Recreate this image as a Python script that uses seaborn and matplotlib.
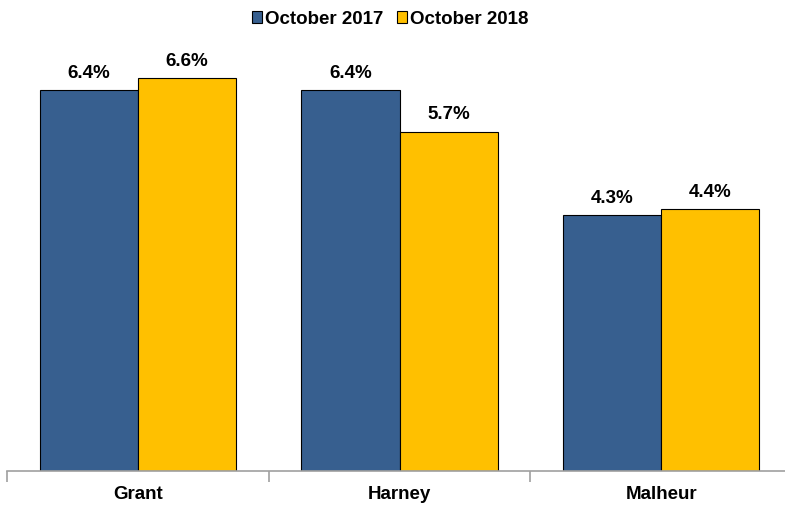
import pandas as pd
import matplotlib
matplotlib.use("Agg")
from matplotlib import pyplot as plt
from matplotlib.patches import Patch
import seaborn as sns

counties = ["Grant", "Harney", "Malheur"]
rate_2017 = [6.4, 6.4, 4.3]
rate_2018 = [6.6, 5.7, 4.4]
series_names = ["October 2017", "October 2018"]
colors = ["#375F8F", "#FFC000"]

df = pd.DataFrame({
    "County": counties * 2,
    "Rate": rate_2017 + rate_2018,
    "Series": [series_names[0]] * 3 + [series_names[1]] * 3,
})

sns.set_style("white")
plt.rcParams["font.family"] = ["Liberation Sans", "DejaVu Sans"]
plt.rcParams["text.color"] = "black"
plt.rcParams["xtick.color"] = "black"

fig = plt.figure(figsize=(7.85, 5.08), dpi=100)
ax = fig.add_axes([0.009, 0.0728, 1.0, 0.82])

sns.barplot(data=df, x="County", y="Rate", hue="Series", palette=colors,
            width=0.75, gap=0, edgecolor="black", linewidth=0.8,
            saturation=1, legend=False, ax=ax)

for cont in ax.containers:
    ax.bar_label(cont, labels=[f"{v:.1f}%" for v in cont.datavalues],
                 padding=6, fontsize=13.5, fontweight="bold", color="black")

ax.set_xlim(-0.5, 2.5)
ax.set_ylim(0, 7)
ax.set_xlabel("")
ax.set_ylabel("")
ax.set_yticks([])
for s in ["top", "right", "left"]:
    ax.spines[s].set_visible(False)
ax.spines["bottom"].set_color("#A0A0A0")
ax.spines["bottom"].set_linewidth(1.2)
ax.set_xticks([-0.5, 0.5, 1.5, 2.5], minor=True)
ax.tick_params(axis="x", which="minor", length=8, color="#A0A0A0", width=1.2, bottom=True)
ax.tick_params(axis="x", which="major", length=0, pad=11, labelsize=13.5, labelcolor="black")
for lbl in ax.get_xticklabels():
    lbl.set_fontweight("bold")

handles = [Patch(facecolor=c, edgecolor="black", linewidth=0.8) for c in colors]
fig.legend(handles, series_names, loc="upper center", bbox_to_anchor=(0.497, 1.012),
           ncol=2, frameon=False, handlelength=0.55, handleheight=0.55,
           handletextpad=0.15, columnspacing=0.7,
           prop={"weight": "bold", "size": 13.5})

fig.savefig("out.png", dpi=100)
